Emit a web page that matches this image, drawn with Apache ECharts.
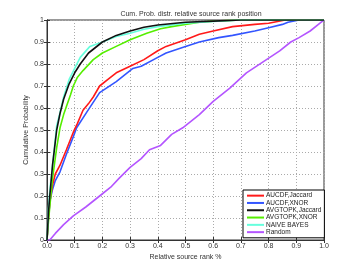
<!DOCTYPE html>
<html><head><meta charset="utf-8">
<script src="https://cdn.jsdelivr.net/npm/echarts@6/dist/echarts.min.js"></script>
<style>html,body{margin:0;padding:0;background:#fff}#c{width:360px;height:271px}</style>
</head><body><div id="c"></div>
<script>
const titleText = "Cum. Prob. distr. relative source rank position";
const xLabel = "Relative source rank %";
const yLabel = "Cumulative Probability";
const seriesNames = ["AUCDF,Jaccard","AUCDF,XNOR","AVGTOPK,Jaccard","AVGTOPK,XNOR","NAIVE BAYES","Random"];

const aucdfJaccard = [[0,0],[0.005,0.1],[0.011,0.18],[0.02,0.25],[0.03,0.3],[0.047,0.34],[0.07,0.41],[0.095,0.49],[0.11,0.53],[0.13,0.59],[0.15,0.62],[0.167,0.65],[0.19,0.7],[0.22,0.73],[0.25,0.76],[0.3,0.79],[0.35,0.82],[0.4,0.86],[0.43,0.88],[0.5,0.91],[0.55,0.935],[0.6,0.95],[0.67,0.97],[0.75,0.98],[0.8,0.985],[0.86,1],[1,1]];
const aucdfXnor = [[0,0],[0.005,0.1],[0.011,0.18],[0.02,0.23],[0.03,0.27],[0.047,0.31],[0.07,0.39],[0.095,0.47],[0.107,0.51],[0.143,0.58],[0.19,0.67],[0.25,0.72],[0.31,0.78],[0.34,0.79],[0.4,0.83],[0.43,0.85],[0.5,0.88],[0.55,0.9],[0.62,0.92],[0.67,0.93],[0.75,0.95],[0.8,0.965],[0.85,0.98],[0.87,0.99],[0.91,1],[1,1]];
const avgtopkJaccard = [[0,0],[0.005,0.12],[0.01,0.2],[0.02,0.34],[0.035,0.5],[0.047,0.575],[0.06,0.64],[0.08,0.71],[0.1,0.76],[0.12,0.8],[0.15,0.85],[0.2,0.9],[0.25,0.93],[0.3,0.95],[0.35,0.967],[0.4,0.977],[0.5,0.99],[0.6,0.995],[0.7,1],[1,1]];
const avgtopkXnor = [[0,0],[0.005,0.08],[0.01,0.15],[0.02,0.28],[0.035,0.42],[0.047,0.51],[0.06,0.57],[0.071,0.61],[0.085,0.66],[0.095,0.7],[0.11,0.74],[0.13,0.77],[0.167,0.82],[0.2,0.85],[0.25,0.88],[0.3,0.91],[0.36,0.94],[0.41,0.96],[0.45,0.97],[0.5,0.98],[0.55,0.99],[0.6,0.995],[0.7,1],[1,1]];
const naiveBayes = [[0,0],[0.005,0.14],[0.01,0.22],[0.02,0.34],[0.035,0.52],[0.047,0.58],[0.06,0.65],[0.08,0.73],[0.1,0.78],[0.12,0.83],[0.155,0.88],[0.2,0.9],[0.25,0.925],[0.3,0.94],[0.35,0.958],[0.4,0.97],[0.5,0.985],[0.6,0.993],[0.7,1],[1,1]];
const randomRank = [[0,0],[0.01,0],[0.03,0.03],[0.06,0.07],[0.095,0.11],[0.14,0.15],[0.19,0.2],[0.23,0.24],[0.26,0.28],[0.3,0.33],[0.34,0.37],[0.37,0.41],[0.41,0.43],[0.45,0.48],[0.49,0.51],[0.55,0.57],[0.6,0.63],[0.66,0.69],[0.72,0.76],[0.78,0.81],[0.84,0.86],[0.88,0.9],[0.91,0.92],[0.95,0.95],[0.99,0.99],[1,1]];

const seriesData = [aucdfJaccard, aucdfXnor, avgtopkJaccard, avgtopkXnor, naiveBayes, randomRank];
const colors = ["#ff1a1a","#3355ff","#111111","#55ee00","#66ffdd","#b455ff"];
const drawOrder = [5,1,0,3,4,2];

const font = "Liberation Sans, Arial, sans-serif";
const chart = echarts.init(document.getElementById('c'), null, {renderer:'canvas'});
const series = drawOrder.map(i => ({
  name: seriesNames[i], type:'line', data: seriesData[i], showSymbol:false, symbol:'none',
  lineStyle:{color:colors[i], width:1.6}, itemStyle:{color:colors[i]}, animation:false, z: 2
}));
const axisCommon = {
  type:'value', min:0, max:1, interval:0.1,
  axisLine:{show:true, lineStyle:{color:'#333', width:1}},
  axisTick:{show:true, inside:true, length:3, lineStyle:{color:'#333'}},
  splitLine:{show:false}
};
chart.setOption({
  animation:false,
  title:{text:titleText, left:186, top:6, textAlign:'center',
    textStyle:{fontSize:7, fontWeight:'normal', color:'#333', fontFamily:font}},
  grid:{left:47, right:36, top:20, bottom:31, show:true, borderColor:'#333', borderWidth:1},
  legend:{orient:'vertical', left:243, top:190, data:seriesNames,
    itemWidth:17, itemHeight:2, itemGap:0, icon:'rect', padding:[2,3,2,4],
    borderColor:'#000', borderWidth:1, backgroundColor:'#fff',
    textStyle:{fontSize:6.5, color:'#222', fontFamily:font, padding:[0,0,0,-3], lineHeight:7.3}},
  xAxis:[Object.assign({}, axisCommon, {
    name:xLabel, nameLocation:'middle', nameGap:14, nameMoveOverlap:false,
    nameTextStyle:{fontSize:7, color:'#333', fontFamily:font},
    axisLabel:{fontSize:7, color:'#333', margin:3, fontFamily:font, formatter:v=>v.toFixed(1)},
    splitLine:{show:true, lineStyle:{color:'#aaa', type:[1,2], width:1}}
  }), Object.assign({}, axisCommon, {position:'top', axisLabel:{show:false}})],
  yAxis:[Object.assign({}, axisCommon, {
    name:yLabel, nameLocation:'middle', nameGap:17, nameMoveOverlap:false,
    nameTextStyle:{fontSize:7, color:'#333', fontFamily:font},
    axisLabel:{fontSize:7, color:'#333', margin:3, fontFamily:font,
      formatter:v=> (v===0?'0':(v===1?'1':v.toFixed(1)))},
    splitLine:{show:true, lineStyle:{color:'#aaa', type:[1,2], width:1}}
  }), Object.assign({}, axisCommon, {position:'right', axisLabel:{show:false}})],
  series: series
});
</script></body></html>
